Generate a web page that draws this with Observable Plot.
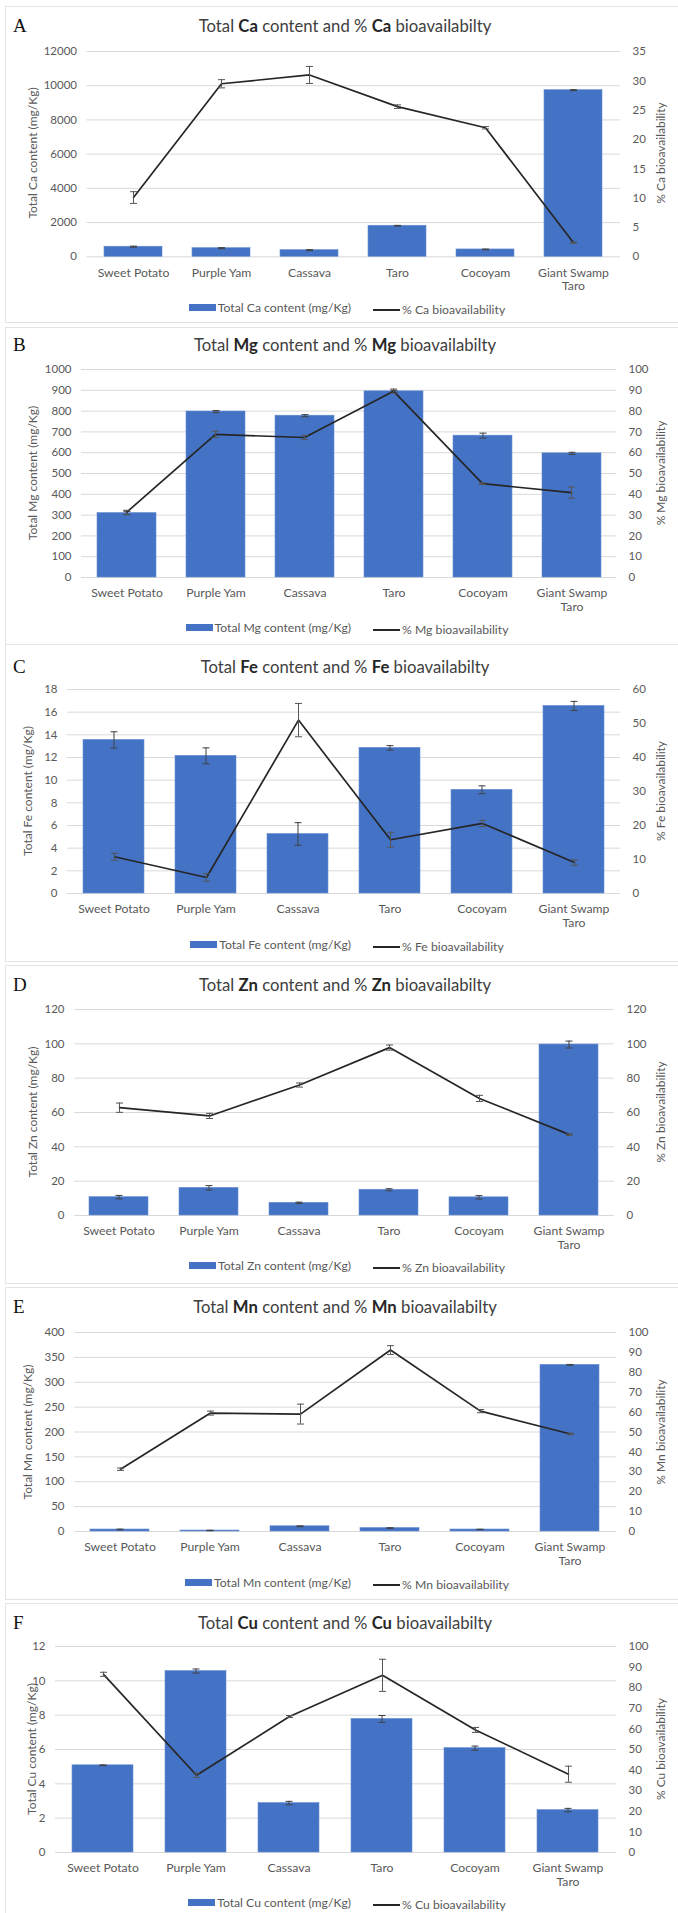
<!DOCTYPE html>
<html>
<head>
<meta charset="utf-8">
<script src="https://cdn.jsdelivr.net/npm/d3@7"></script>
<script src="https://cdn.jsdelivr.net/npm/@observablehq/plot@0.6"></script>
<style>
html, body { margin: 0; padding: 0; background: #fff; overflow: hidden; }
#page { position: relative; width: 678px; height: 1913px; overflow: hidden; font-family: Lato, "Open Sans", sans-serif; }
.panel { position: absolute; left: 5px; width: 700px; box-sizing: border-box; border: 1.5px solid #e4e4e4; }
.letter { position: absolute; left: 13px; font-family: "Liberation Serif", "DejaVu Serif", serif; font-size: 19px; color: #111; line-height: 20px; height: 20px; }
.title { position: absolute; left: 0; width: 690px; text-align: center; font-size: 16.7px; color: #404040; line-height: 20px; height: 20px; }
.title b { color: #262626; }
.ytitle { position: absolute; font-size: 12px; color: #595959; white-space: nowrap; transform: translate(-50%, -50%) rotate(-90deg); }
.legend { position: absolute; left: 0; width: 694px; text-align: center; font-size: 12.2px; color: #595959; line-height: 14px; height: 14px; }
.legend span.item { display: inline-flex; align-items: center; margin: 0 11px; }
.sw-bar { display: inline-block; width: 27px; height: 7px; background: #4472C4; margin-right: 2px; }
.sw-line { display: inline-block; width: 27px; height: 2px; background: #262626; margin-right: 2px; }
.layer { position: absolute; left: 0; }
</style>
</head>
<body>
<div id="page"></div>
<script>
// ---------- data ----------
const categories = ["Sweet Potato", "Purple Yam", "Cassava", "Taro", "Cocoyam", "Giant Swamp Taro"];
const categoryLabels = ["Sweet Potato", "Purple Yam", "Cassava", "Taro", "Cocoyam", "Giant Swamp\nTaro"];

const caContent = [590, 505, 390, 1815, 430, 9740];
const caContentErr = [30, 30, 30, 20, 20, 30];
const caBio = [10.1, 29.5, 31.0, 25.6, 22.0, 2.4];
const caBioErr = [1.0, 0.7, 1.45, 0.3, 0.2, 0.1];
const caLeftTicks = [0, 2000, 4000, 6000, 8000, 10000, 12000];
const caRightTicks = [0, 5, 10, 15, 20, 25, 30, 35];

const mgContent = [310, 798, 778, 895, 682, 597];
const mgContentErr = [8, 5, 5, 5, 12, 5];
const mgBio = [31.3, 68.8, 67.3, 89.6, 45.1, 40.8];
const mgBioErr = [1.0, 1.5, 1.0, 1.0, 0.4, 2.7];
const mgLeftTicks = [0, 100, 200, 300, 400, 500, 600, 700, 800, 900, 1000];
const mgRightTicks = [0, 10, 20, 30, 40, 50, 60, 70, 80, 90, 100];

const feContent = [13.55, 12.15, 5.25, 12.85, 9.15, 16.55];
const feContentErr = [0.72, 0.7, 1.0, 0.2, 0.35, 0.4];
const feBio = [10.8, 4.7, 51.0, 15.8, 20.6, 9.1];
const feBioErr = [1.0, 1.1, 4.9, 2.2, 0.9, 0.8];
const feLeftTicks = [0, 2, 4, 6, 8, 10, 12, 14, 16, 18];
const feRightTicks = [0, 10, 20, 30, 40, 50, 60];

const znContent = [10.7, 16.1, 7.4, 15.0, 10.6, 99.6];
const znContentErr = [1.0, 1.3, 0.4, 0.6, 1.0, 2.0];
const znBio = [62.8, 58.0, 76.0, 97.8, 68.2, 47.1];
const znBioErr = [2.7, 1.5, 1.2, 1.5, 1.8, 0.5];
const znLeftTicks = [0, 20, 40, 60, 80, 100, 120];
const znRightTicks = [0, 20, 40, 60, 80, 100, 120];

const mnContent = [4, 2, 10.5, 7, 4, 335];
const mnContentErr = [0.7, 0.5, 0.8, 0.6, 0.5, 0.8];
const mnBio = [31.3, 59.5, 59.0, 91.2, 60.5, 49.0];
const mnBioErr = [0.6, 1.0, 5.0, 2.2, 0.8, 0.4];
const mnLeftTicks = [0, 50, 100, 150, 200, 250, 300, 350, 400];
const mnRightTicks = [0, 10, 20, 30, 40, 50, 60, 70, 80, 90, 100];

const cuContent = [5.08, 10.57, 2.88, 7.78, 6.08, 2.47];
const cuContentErr = [0.02, 0.12, 0.1, 0.2, 0.12, 0.1];
const cuBio = [86.5, 37.5, 66.0, 86.0, 59.5, 38.0];
const cuBioErr = [1.0, 1.0, 0.5, 7.8, 1.2, 3.9];
const cuLeftTicks = [0, 2, 4, 6, 8, 10, 12];
const cuRightTicks = [0, 10, 20, 30, 40, 50, 60, 70, 80, 90, 100];

const panelLetters = ["A", "B", "C", "D", "E", "F"];
const elements = ["Ca", "Mg", "Fe", "Zn", "Mn", "Cu"];

// ---------- layout (page pixels) ----------
const layouts = [
  {border: [6, 323], letterY: 26, top: 50.7, zero: 256, L: 86.5, R: 620, legendY: 307, ltx: 32},
  {border: [327, 645], letterY: 345, top: 369, zero: 577, L: 81, R: 616, legendY: 627, ltx: 32},
  {border: [644, 962], letterY: 667, top: 689, zero: 893, L: 67, R: 620, legendY: 944, ltx: 27},
  {border: [965, 1284], letterY: 985, top: 1009, zero: 1215, L: 74, R: 614, legendY: 1265, ltx: 32},
  {border: [1287, 1600], letterY: 1307, top: 1332, zero: 1531, L: 74, R: 616, legendY: 1582, ltx: 27},
  {border: [1603, 1930], letterY: 1623, top: 1646, zero: 1852, L: 55, R: 616, legendY: 1902, ltx: 31}
];

const series = [
  [caContent, caContentErr, caBio, caBioErr, caLeftTicks, caRightTicks],
  [mgContent, mgContentErr, mgBio, mgBioErr, mgLeftTicks, mgRightTicks],
  [feContent, feContentErr, feBio, feBioErr, feLeftTicks, feRightTicks],
  [znContent, znContentErr, znBio, znBioErr, znLeftTicks, znRightTicks],
  [mnContent, mnContentErr, mnBio, mnBioErr, mnLeftTicks, mnRightTicks],
  [cuContent, cuContentErr, cuBio, cuBioErr, cuLeftTicks, cuRightTicks]
];

const capSymbol = {
  draw(context, size) {
    const r = Math.sqrt(size / Math.PI);
    context.moveTo(-r, 0);
    context.lineTo(r, 0);
  }
};

const page = document.getElementById("page");
const W = 678, MT = 10, MB = 40;
const labelOf = d => categoryLabels[categories.indexOf(d)];

function addDiv(cls, top, html, extra) {
  const d = document.createElement("div");
  d.className = cls;
  d.style.top = top + "px";
  if (html != null) d.innerHTML = html;
  if (extra) Object.assign(d.style, extra);
  page.appendChild(d);
  return d;
}

series.forEach(([content, contentErr, bio, bioErr, leftTicks, rightTicks], k) => {
  const lay = layouts[k];
  const el = elements[k];
  const rows = categories.map((c, i) => ({
    cat: c, content: content[i], cErr: contentErr[i], bio: bio[i], bErr: bioErr[i]
  }));
  const leftMax = leftTicks[leftTicks.length - 1];
  const rightMax = rightTicks[rightTicks.length - 1];

  addDiv("panel", lay.border[0], null, {height: (lay.border[1] - lay.border[0]) + "px"});
  addDiv("letter", lay.letterY - 10, panelLetters[k]);
  addDiv("title", lay.letterY - 10, `Total <b>${el}</b> content and % <b>${el}</b> bioavailabilty`);

  const H = (lay.zero - lay.top) + MT + MB;
  const svgTop = lay.top - MT;
  const common = {
    width: W, height: H, marginLeft: lay.L, marginRight: W - lay.R, marginTop: MT, marginBottom: MB,
    style: {background: "transparent", fontFamily: "Lato, 'Open Sans', sans-serif", fontSize: "11.5px", color: "#595959", overflow: "visible"}
  };

  const barPlot = Plot.plot({
    ...common,
    x: {type: "band", domain: categories, paddingInner: 0.34, paddingOuter: 0.17},
    y: {domain: [0, leftMax]},
    marks: [
      Plot.gridY(leftTicks, {stroke: "#d9d9d9", strokeOpacity: 1, strokeWidth: 1}),
      Plot.barY(rows, {x: "cat", y: "content", fill: "#4472C4", stroke: "#6a8fd3", strokeWidth: 0.6}),
      Plot.ruleX(rows, {x: "cat", y1: d => d.content - d.cErr, y2: d => d.content + d.cErr, stroke: "#404040", strokeWidth: 1}),
      Plot.dot(rows, {x: "cat", y: d => d.content - d.cErr, symbol: capSymbol, r: 3.5, fill: "none", stroke: "#404040", strokeWidth: 1}),
      Plot.dot(rows, {x: "cat", y: d => d.content + d.cErr, symbol: capSymbol, r: 3.5, fill: "none", stroke: "#404040", strokeWidth: 1}),
      Plot.axisY(leftTicks, {anchor: "left", tickSize: 0, tickPadding: 10, tickFormat: d => String(d), label: null}),
      Plot.axisX({anchor: "bottom", tickSize: 0, tickPadding: 10, tickFormat: labelOf, lineHeight: 1.12, fontSize: 12.2, label: null})
    ]
  });
  barPlot.classList.add("layer");
  barPlot.style.top = svgTop + "px";
  page.appendChild(barPlot);

  const linePlot = Plot.plot({
    ...common,
    x: {type: "point", domain: categories, padding: 0.5, axis: null},
    y: {domain: [0, rightMax]},
    marks: [
      Plot.line(rows, {x: "cat", y: "bio", stroke: "#262626", strokeWidth: 1.7}),
      Plot.ruleX(rows, {x: "cat", y1: d => d.bio - d.bErr, y2: d => d.bio + d.bErr, stroke: "#555", strokeWidth: 1}),
      Plot.dot(rows, {x: "cat", y: d => d.bio - d.bErr, symbol: capSymbol, r: 3.5, fill: "none", stroke: "#555", strokeWidth: 1}),
      Plot.dot(rows, {x: "cat", y: d => d.bio + d.bErr, symbol: capSymbol, r: 3.5, fill: "none", stroke: "#555", strokeWidth: 1}),
      Plot.axisY(rightTicks, {anchor: "right", tickSize: 0, tickPadding: 12, tickFormat: d => String(d), textAnchor: "start", label: null})
    ]
  });
  linePlot.classList.add("layer");
  linePlot.style.top = svgTop + "px";
  page.appendChild(linePlot);

  const midY = (lay.top + lay.zero) / 2;
  addDiv("ytitle", midY, `Total ${el} content (mg/Kg)`, {left: lay.ltx + "px"});
  addDiv("ytitle", midY, `% ${el} bioavailability`, {left: "660px"});

  addDiv("legend", lay.legendY - 7,
    `<span class="item"><span class="sw-bar"></span>Total ${el} content (mg/Kg)</span>` +
    `<span class="item"><span class="sw-line"></span>% ${el} bioavailability</span>`);
});
</script>
</body>
</html>
